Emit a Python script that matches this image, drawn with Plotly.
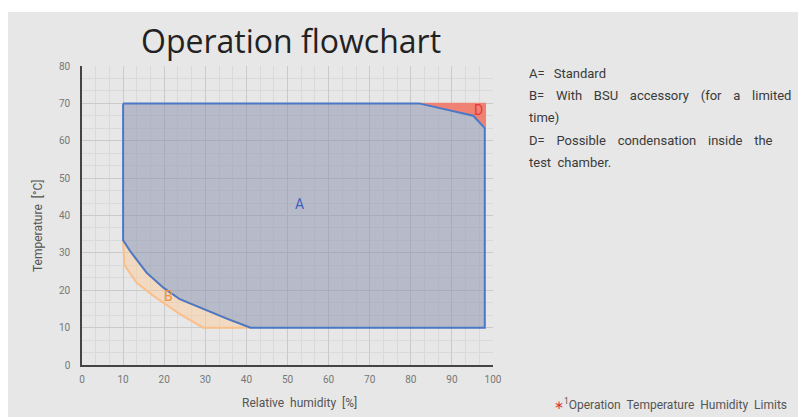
import plotly.graph_objects as go

# ---- data ----
# Region A (standard): outline in (RH %, Temp °C)
a_rh   = [10, 82, 95.2, 98, 98, 41, 35.2, 29.5, 23.8, 19.8, 15.7, 11.7, 10, 10]
a_temp = [70, 70, 66.7, 63.4, 10, 10, 12.4, 15.1, 17.6, 20.7, 24.7, 30.5, 33.4, 70]

# Region B (with BSU accessory)
b_rh   = [10, 11.7, 15.7, 19.8, 23.8, 29.5, 35.2, 41, 29.5, 23.8, 17.4, 13.3, 10.3, 10]
b_temp = [33.4, 30.5, 24.7, 20.7, 17.6, 15.1, 12.4, 10, 10, 13.6, 18.5, 22, 26.8, 33.4]

# Region D (possible condensation)
d_rh   = [82, 98.3, 98.3, 95.2, 82]
d_temp = [70.2, 70.2, 63.4, 66.7, 70.2]

x_ticks = [0, 10, 20, 30, 40, 50, 60, 70, 80, 90, 100]
y_ticks = [0, 10, 20, 30, 40, 50, 60, 70, 80]

legend_words = [
    ["A=", "Standard"],
    ["B=", "With", "BSU", "accessory", "(for", "a", "limited"],
    ["time)"],
    ["D=", "Possible", "condensation", "inside", "the"],
    ["test", "chamber."],
]

# ---- layout geometry (page pixels; page has an 8px body margin) ----
OFF = 8
W, H = 806 - OFF, 417 - OFF
L, R, T, B = 82 - OFF, 493 - OFF, 66 - OFF, 365 - OFF

def px(x):
    return (x - OFF - L) / (R - L)

def py(y):
    return (B - (y - OFF)) / (B - T)

FONT = "Roboto"
BG = "#e6e7e6"

fig = go.Figure()
fig.add_trace(go.Scatter(x=b_rh, y=b_temp, mode="lines", fill="toself",
                         fillcolor="rgba(255,200,150,0.45)",
                         line=dict(color="#f9c08c", width=2), hoverinfo="skip"))
fig.add_trace(go.Scatter(x=d_rh, y=d_temp, mode="lines", fill="toself",
                         fillcolor="#ef8272", line=dict(color="#ef8272", width=0),
                         hoverinfo="skip"))
fig.add_trace(go.Scatter(x=a_rh, y=a_temp, mode="lines", fill="toself",
                         fillcolor="rgba(136,144,172,0.5)",
                         line=dict(color="#4a78c8", width=2), hoverinfo="skip"))

ann = []
ann.append(dict(x=53, y=43, xref="x", yref="y", text="A", showarrow=False,
                font=dict(family=FONT, size=14, color="#3f5fc0")))
ann.append(dict(x=21, y=18.5, xref="x", yref="y", text="B", showarrow=False,
                font=dict(family=FONT, size=14, color="#f0903a")))
ann.append(dict(x=96.4, y=68.3, xref="x", yref="y", text="D", showarrow=False,
                font=dict(family=FONT, size=14, color="#e8383a")))

# title
ann.append(dict(x=px(291), y=py(40), xref="paper", yref="paper", text="Operation flowchart",
                showarrow=False, xanchor="center", yanchor="middle",
                font=dict(family="Open Sans", size=32, color="#222222")))
# axis titles
ann.append(dict(x=px(38), y=py(226), xref="paper", yref="paper", text="Temperature&nbsp; [°C]",
                showarrow=False, textangle=-90, xanchor="center", yanchor="middle",
                font=dict(family=FONT, size=12, color="#555555")))
ann.append(dict(x=px(299), y=py(403), xref="paper", yref="paper", text="Relative&nbsp; humidity&nbsp; [%]",
                showarrow=False, xanchor="center", yanchor="middle",
                font=dict(family=FONT, size=12, color="#555555")))
# legend text (word gaps widened to mimic justified text)
gaps = ["&nbsp; \u2009", "&nbsp; \u2009\u2009", "&nbsp; ", "&nbsp; \u2009\u2009", "&nbsp; "]
ys = [73, 95.5, 117.5, 140.5, 162.5]
for words, gap, yy in zip(legend_words, gaps, ys):
    ann.append(dict(x=px(527), y=py(yy), xref="paper", yref="paper", text=gap.join(words),
                    showarrow=False, xanchor="left", yanchor="middle",
                    font=dict(family=FONT, size=13, color="#3a3a3a")))
# footnote
ann.append(dict(x=px(789), y=py(404), xref="paper", yref="paper",
                text="<span style='color:#e03030'>∗</span><sup>1</sup>Operation&nbsp; Temperature&nbsp; Humidity&nbsp; Limits",
                showarrow=False, xanchor="right", yanchor="middle",
                font=dict(family=FONT, size=12, color="#555555")))

shapes = [dict(type="rect", xref="paper", yref="paper",
               x0=px(8), x1=px(806), y0=py(417), y1=py(12),
               fillcolor=BG, line=dict(width=0), layer="below")]

axis_common = dict(showgrid=True, gridcolor="#c9cac9", gridwidth=1,
                   zeroline=False, showline=True, linecolor="#444444", linewidth=1.5,
                   ticks="", tickfont=dict(family=FONT, size=10, color="#777777"))

fig.update_layout(
    width=W, height=H,
    margin=dict(l=L, r=W - R, t=T, b=H - B, pad=0),
    paper_bgcolor="white", plot_bgcolor="rgba(0,0,0,0)",
    showlegend=False, annotations=ann, shapes=shapes,
)
minor = dict(tickmode="linear", tick0=0, dtick=10 / 3, showgrid=True,
             gridcolor="#d9dad9", gridwidth=1, ticks="")
fig.update_xaxes(range=[0, 100], tickmode="array", tickvals=x_ticks,
                 ticklabelstandoff=4, minor=minor, **axis_common)
fig.update_yaxes(range=[0, 80], tickmode="array", tickvals=y_ticks,
                 ticklabelstandoff=8, minor=minor, **axis_common)

fig.write_html("out.html")
